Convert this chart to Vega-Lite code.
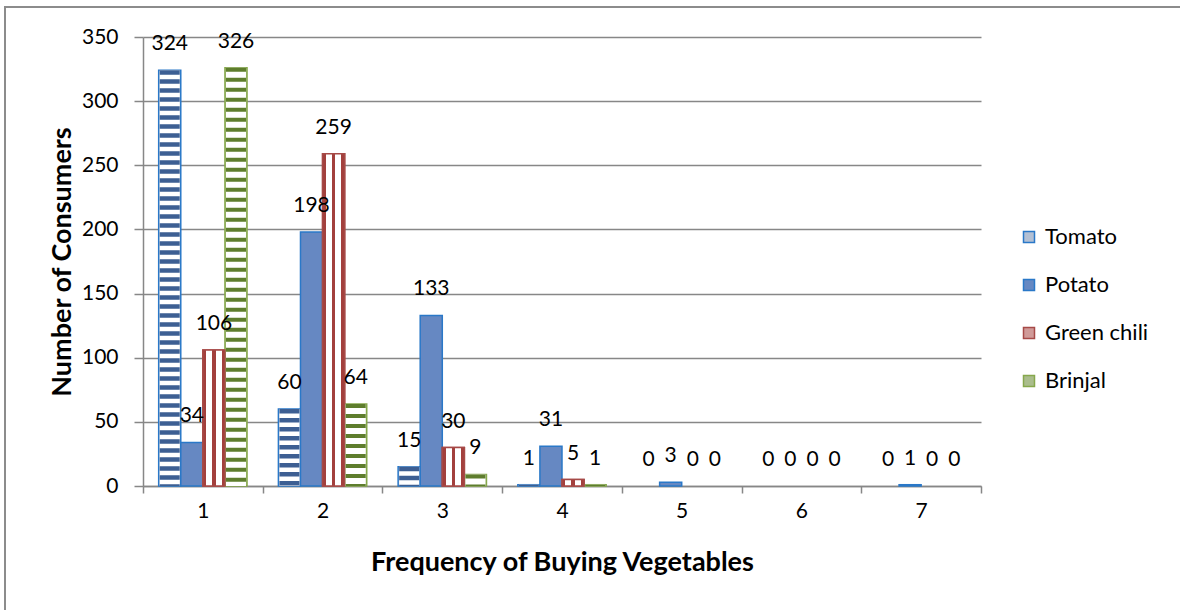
{
  "$schema": "https://vega.github.io/schema/vega-lite/v6.json",
  "width": 1179,
  "height": 607,
  "autosize": {"type": "none"},
  "padding": {"left": 5, "top": 7, "right": -4, "bottom": -4},
  "background": "white",
  "config": {
    "view": {"stroke": "#8c8c8c", "strokeWidth": 2},
    "font": "Lato",
    "axis": {
      "labelFont": "Lato",
      "labelFontSize": 21,
      "labelColor": "#000000",
      "titleFont": "Lato",
      "titleFontSize": 27,
      "titleFontWeight": "bold",
      "titleColor": "#000000",
      "domainColor": "#878787",
      "domainWidth": 1.5,
      "tickColor": "#878787",
      "tickWidth": 1.5,
      "gridColor": "#878787",
      "gridWidth": 1.5
    }
  },
  "data": {
    "values": [
      {"freq": 1, "veg": "Tomato", "count": 324},
      {"freq": 1, "veg": "Potato", "count": 34},
      {"freq": 1, "veg": "Green chili", "count": 106},
      {"freq": 1, "veg": "Brinjal", "count": 326},
      {"freq": 2, "veg": "Tomato", "count": 60},
      {"freq": 2, "veg": "Potato", "count": 198},
      {"freq": 2, "veg": "Green chili", "count": 259},
      {"freq": 2, "veg": "Brinjal", "count": 64},
      {"freq": 3, "veg": "Tomato", "count": 15},
      {"freq": 3, "veg": "Potato", "count": 133},
      {"freq": 3, "veg": "Green chili", "count": 30},
      {"freq": 3, "veg": "Brinjal", "count": 9},
      {"freq": 4, "veg": "Tomato", "count": 1},
      {"freq": 4, "veg": "Potato", "count": 31},
      {"freq": 4, "veg": "Green chili", "count": 5},
      {"freq": 4, "veg": "Brinjal", "count": 1},
      {"freq": 5, "veg": "Tomato", "count": 0},
      {"freq": 5, "veg": "Potato", "count": 3},
      {"freq": 5, "veg": "Green chili", "count": 0},
      {"freq": 5, "veg": "Brinjal", "count": 0},
      {"freq": 6, "veg": "Tomato", "count": 0},
      {"freq": 6, "veg": "Potato", "count": 0},
      {"freq": 6, "veg": "Green chili", "count": 0},
      {"freq": 6, "veg": "Brinjal", "count": 0},
      {"freq": 7, "veg": "Tomato", "count": 0},
      {"freq": 7, "veg": "Potato", "count": 1},
      {"freq": 7, "veg": "Green chili", "count": 0},
      {"freq": 7, "veg": "Brinjal", "count": 0}
    ]
  },
  "encoding": {
    "x": {
      "field": "freq",
      "type": "ordinal",
      "scale": {"domain": [1, 2, 3, 4, 5, 6, 7], "range": [138, 976], "paddingInner": 0, "paddingOuter": 0},
      "axis": {
        "title": "Frequency of Buying Vegetables",
        "labelAngle": 0,
        "offset": -128,
        "tickBand": "extent",
        "tickSize": 7,
        "labelPadding": 7,
        "grid": false,
        "titleX": 557,
        "titleY": 76,
        "titleBaseline": "middle",
        "titleAlign": "center"
      }
    },
    "xOffset": {
      "field": "veg",
      "type": "nominal",
      "scale": {"domain": ["Tomato", "Potato", "Green chili", "Brinjal"], "paddingInner": 0, "paddingOuter": 0.71}
    },
    "y": {
      "field": "count",
      "type": "quantitative",
      "scale": {"domain": [0, 350], "range": [479, 30], "nice": false, "zero": true},
      "axis": {
        "title": "Number of Consumers",
        "values": [0, 50, 100, 150, 200, 250, 300, 350],
        "offset": -138,
        "grid": true,
        "tickSize": 9,
        "labelPadding": 16,
        "titleAngle": -90,
        "titleX": -81,
        "titleY": 254.5,
        "titleBaseline": "middle",
        "titleAlign": "center"
      }
    }
  },
  "layer": [
    {
      "transform": [{"filter": "datum.count > 0"}],
      "mark": {"type": "bar", "strokeWidth": 1.5},
      "encoding": {
        "fill": {
          "field": "veg",
          "type": "nominal",
          "scale": {
            "domain": ["Tomato", "Potato", "Green chili", "Brinjal"],
            "range": ["#b3c0d4", "#6688c2", "#d09a98", "#aabd8c"]
          },
          "legend": {
            "orient": "none",
            "legendX": 1013,
            "legendY": 219,
            "title": null,
            "symbolType": "square",
            "symbolSize": 121,
            "symbolStrokeWidth": 1.5,
            "labelFont": "Lato",
            "labelFontSize": 22,
            "labelColor": "#000000",
            "labelOffset": 5,
            "rowPadding": 26
          }
        },
        "stroke": {
          "field": "veg",
          "type": "nominal",
          "scale": {
            "domain": ["Tomato", "Potato", "Green chili", "Brinjal"],
            "range": ["#2a78c8", "#2a78c8", "#a64a47", "#86a84c"]
          },
          "legend": {
            "orient": "none",
            "legendX": 1013,
            "legendY": 219,
            "title": null,
            "symbolType": "square",
            "symbolSize": 121,
            "symbolStrokeWidth": 1.5,
            "labelFont": "Lato",
            "labelFontSize": 22,
            "labelColor": "#000000",
            "labelOffset": 5,
            "rowPadding": 26
          }
        }
      }
    },
    {
      "transform": [{"filter": "datum.veg === 'Green chili' && datum.count > 0"}],
      "mark": {
        "type": "bar",
        "stroke": "#a64a47",
        "strokeWidth": 1.5,
        "fill": {"gradient": "linear", "x1": 0, "y1": 0, "x2": 1, "y2": 0, "stops": [
          {"offset": 0, "color": "#a3403d"}, {"offset": 0.15, "color": "#a3403d"},
          {"offset": 0.15, "color": "#ffffff"}, {"offset": 0.42, "color": "#ffffff"},
          {"offset": 0.42, "color": "#a3403d"}, {"offset": 0.58, "color": "#a3403d"},
          {"offset": 0.58, "color": "#ffffff"}, {"offset": 0.85, "color": "#ffffff"},
          {"offset": 0.85, "color": "#a3403d"}, {"offset": 1, "color": "#a3403d"}]}
      },
      "encoding": {}
    },
    {
      "transform": [{"filter": "(datum.veg === 'Tomato' || datum.veg === 'Brinjal') && datum.count > 0"}],
      "mark": {"type": "rule", "stroke": "#ffffff", "strokeWidth": 20},
      "encoding": {"y2": {"datum": 0}}
    },
    {
      "transform": [{"filter": "datum.veg === 'Tomato' && datum.count > 0"}],
      "mark": {"type": "rule", "stroke": "#3d5f93", "strokeWidth": 20, "strokeDash": [4.5, 4.5]},
      "encoding": {"y2": {"datum": 0}}
    },
    {
      "transform": [{"filter": "datum.veg === 'Brinjal' && datum.count > 0"}],
      "mark": {"type": "rule", "stroke": "#5e7d2d", "strokeWidth": 20, "strokeDash": [4, 6]},
      "encoding": {"y2": {"datum": 0}}
    },
    {
      "mark": {"type": "text", "baseline": "alphabetic", "dy": -20, "font": "Lato", "fontSize": 21, "color": "#000000"},
      "encoding": {"text": {"field": "count", "type": "quantitative"}}
    }
  ]
}
